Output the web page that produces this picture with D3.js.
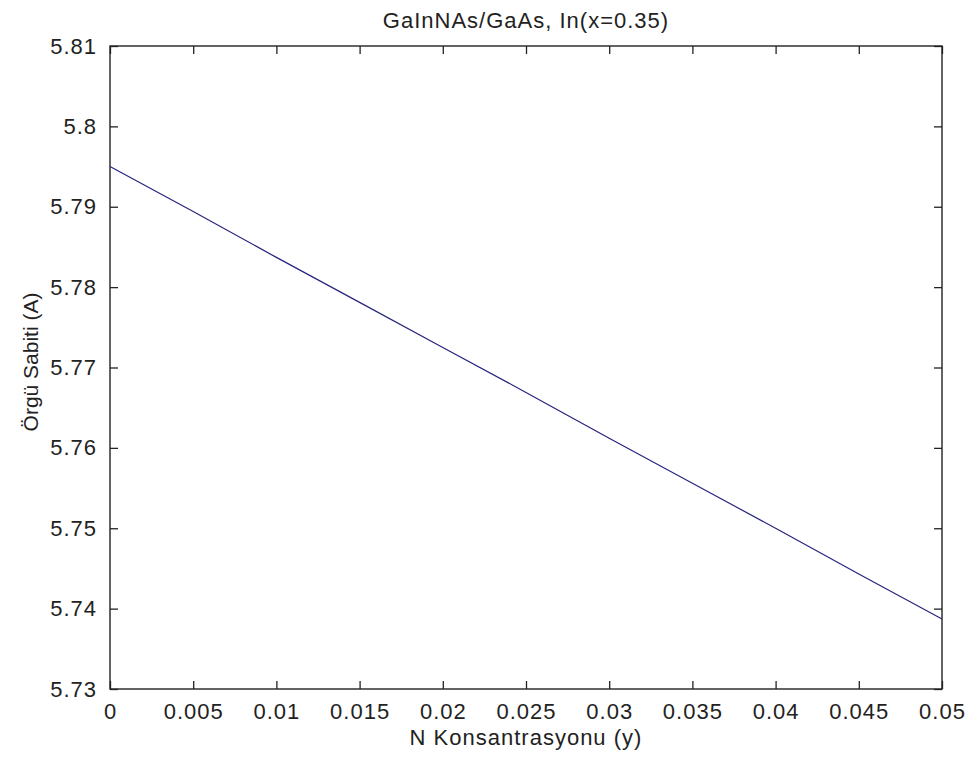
<!DOCTYPE html>
<html>
<head>
<meta charset="utf-8">
<script src="https://cdn.jsdelivr.net/npm/d3@7"></script>
<style>
  body { margin: 0; background: #fff; }
  text { font-family: "Liberation Sans", Arial, sans-serif; fill: #222; letter-spacing: 1px; }
</style>
</head>
<body>
<div id="chart"></div>
<script>
// N concentration (y) and lattice constant (Å)
const nConc = [0, 0.005, 0.01, 0.015, 0.02, 0.025, 0.03, 0.035, 0.04, 0.045, 0.05];
const latticeConst = [5.7950, 5.7894, 5.7837, 5.7781, 5.7725, 5.7669, 5.7612, 5.7556, 5.7500, 5.7443, 5.7387];

const xTicks = [0, 0.005, 0.01, 0.015, 0.02, 0.025, 0.03, 0.035, 0.04, 0.045, 0.05];
const xTickLabels = ["0", "0.005", "0.01", "0.015", "0.02", "0.025", "0.03", "0.035", "0.04", "0.045", "0.05"];
const yTicks = [5.73, 5.74, 5.75, 5.76, 5.77, 5.78, 5.79, 5.8, 5.81];
const yTickLabels = ["5.73", "5.74", "5.75", "5.76", "5.77", "5.78", "5.79", "5.8", "5.81"];

const W = 975, H = 763;
const margin = { top: 46, right: 33, bottom: 74, left: 110 };
const width = W - margin.left - margin.right,
      height = H - margin.top - margin.bottom;

const svg = d3.select("#chart").append("svg")
    .attr("width", W)
    .attr("height", H);

const g = svg.append("g")
    .attr("transform", `translate(${margin.left},${margin.top})`);

// Scales
const x = d3.scaleLinear().domain([0, 0.05]).range([0, width]);
const y = d3.scaleLinear().domain([5.73, 5.81]).range([height, 0]);

const tickLen = 8;
const fs = "22px";

// Axes (ticks pointing inward, on all four sides)
const xBottom = g.append("g")
    .attr("transform", `translate(0,${height})`)
    .call(d3.axisBottom(x).tickValues(xTicks).tickSize(-tickLen).tickPadding(14)
        .tickFormat((d, i) => xTickLabels[i]));
const xTop = g.append("g")
    .call(d3.axisTop(x).tickValues(xTicks).tickSize(-tickLen).tickFormat(""));
const yLeft = g.append("g")
    .call(d3.axisLeft(y).tickValues(yTicks).tickSize(-tickLen).tickPadding(13)
        .tickFormat((d, i) => yTickLabels[i]));
const yRight = g.append("g")
    .attr("transform", `translate(${width},0)`)
    .call(d3.axisRight(y).tickValues(yTicks).tickSize(-tickLen).tickFormat(""));

[xBottom, xTop, yLeft, yRight].forEach(a => {
    a.select(".domain").remove();
    a.selectAll(".tick line").attr("stroke", "#222").attr("stroke-width", 1.3);
    a.selectAll(".tick text").style("font-size", fs).attr("fill", "#222");
});

// Frame
g.append("rect")
    .attr("width", width)
    .attr("height", height)
    .attr("fill", "none")
    .attr("stroke", "#222")
    .attr("stroke-width", 1.4);

// Line
const line = d3.line()
    .x((d, i) => x(nConc[i]))
    .y(d => y(d));

g.append("path")
    .datum(latticeConst)
    .attr("fill", "none")
    .attr("stroke", "#25257f")
    .attr("stroke-width", 1.2)
    .attr("d", line);

// Title
g.append("text")
    .attr("x", width / 2)
    .attr("y", -18)
    .attr("text-anchor", "middle")
    .style("font-size", fs)
    .text("GaInNAs/GaAs, In(x=0.35)");

// X-axis label
g.append("text")
    .attr("x", width / 2)
    .attr("y", height + 56)
    .attr("text-anchor", "middle")
    .style("font-size", fs)
    .text("N Konsantrasyonu (y)");

// Y-axis label
g.append("text")
    .attr("transform", "rotate(-90)")
    .attr("x", -316)
    .attr("y", -72)
    .attr("text-anchor", "middle")
    .style("font-size", "21px")
    .style("letter-spacing", "0px")
    .text("Örgü Sabiti (A)");
</script>
</body>
</html>
